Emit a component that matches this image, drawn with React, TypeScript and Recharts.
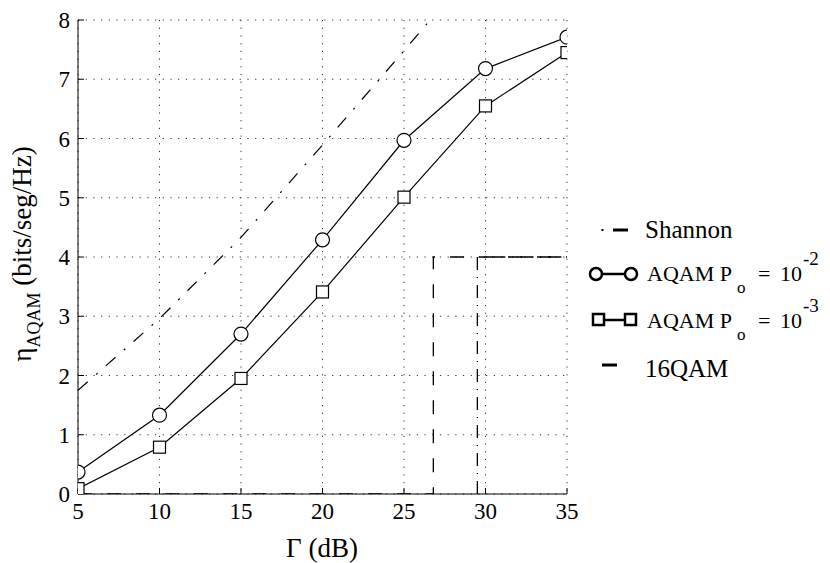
import { LineChart, Line, XAxis, YAxis, CartesianGrid } from "recharts";

const gammaDb = [5, 10, 15, 20, 25, 30, 35];
const aqamPo2 = [0.37, 1.33, 2.7, 4.29, 5.97, 7.18, 7.71];
const aqamPo3 = [0.09, 0.79, 1.95, 3.41, 5.01, 6.55, 7.45];
const shannonDb = [5, 10, 15, 20, 25, 26.6];
const shannonEta = [1.75, 2.96, 4.33, 5.89, 7.48, 8];
const qamDashDb = [5, 26.8, 26.8, 35];
const qamDashEta = [0, 0, 4, 4];
const qamDotDb = [29.5, 29.5, 35];
const qamDotEta = [0, 4, 4];
const xTicks = [5, 10, 15, 20, 25, 30, 35];
const yTicks = [0, 1, 2, 3, 4, 5, 6, 7, 8];

const FONT = "Liberation Serif";

const zip = (xs: number[], ys: number[]) => xs.map((x, i) => ({ x, y: ys[i] }));

const SquareDot = (props: any) => {
  const { cx, cy, index } = props;
  if (cx == null || cy == null) return null;
  return <rect key={`sq-${index}`} x={cx - 6} y={cy - 6} width={12} height={12} fill="#fff" stroke="#000" strokeWidth={1.2} />;
};

const XTick = (props: any) => {
  const { x, y, payload } = props;
  return (
    <text x={x} y={y} dy={17} textAnchor="middle" fontFamily={FONT} fontSize={23} fill="#000">
      {payload.value}
    </text>
  );
};

const YTick = (props: any) => {
  const { x, y, payload } = props;
  return (
    <text x={x} y={y} dy={8} textAnchor="end" fontFamily={FONT} fontSize={23} fill="#000">
      {payload.value}
    </text>
  );
};

// legend + axis titles drawn on an overlay
const Overlay = () => (
  <svg width={830} height={563} style={{ position: "absolute", left: 0, top: 0, pointerEvents: "none" }}>
    <text x={322} y={557} textAnchor="middle" fontSize={27} fontFamily={FONT} fill="#000">
      Γ (dB)
    </text>
    <text transform="rotate(-90)" x={-254} y={31} textAnchor="middle" fontSize={27} fontFamily={FONT} fill="#000">
      η<tspan dy={9} fontSize={18}>AQAM</tspan>
      <tspan dy={-9}> (bits/seg/Hz)</tspan>
    </text>

    <g transform="translate(580,205)">
      <rect x={21.5} y={24} width={2} height={2} fill="#000" />
      <line x1={33} y1={25} x2={48} y2={25} stroke="#000" strokeWidth={3} />
      <text x={65} y={33} fontSize={25} fontFamily={FONT} fill="#000">Shannon</text>

      <line x1={21} y1={69} x2={45} y2={69} stroke="#000" strokeWidth={2.5} />
      <circle cx={16} cy={69} r={6} fill="#fff" stroke="#000" strokeWidth={2.5} />
      <circle cx={51} cy={69} r={6} fill="#fff" stroke="#000" strokeWidth={2.5} />
      <text y={76} fontSize={22} fontFamily={FONT} fill="#000">
        <tspan x={67}>AQAM P</tspan>
        <tspan x={157} y={88} fontSize={17}>o</tspan>
        <tspan x={178} y={76}>=</tspan>
        <tspan x={200} y={76}>10</tspan>
        <tspan x={223} y={60} fontSize={19}>-2</tspan>
      </text>

      <line x1={24} y1={115} x2={45} y2={115} stroke="#000" strokeWidth={2.5} />
      <rect x={13} y={109} width={11} height={11} fill="#fff" stroke="#000" strokeWidth={2.5} />
      <rect x={45} y={109} width={11} height={11} fill="#fff" stroke="#000" strokeWidth={2.5} />
      <text y={123} fontSize={22} fontFamily={FONT} fill="#000">
        <tspan x={67}>AQAM P</tspan>
        <tspan x={157} y={135} fontSize={17}>o</tspan>
        <tspan x={178} y={123}>=</tspan>
        <tspan x={200} y={123}>10</tspan>
        <tspan x={223} y={107} fontSize={19}>-3</tspan>
      </text>

      <line x1={22} y1={160} x2={37} y2={160} stroke="#000" strokeWidth={3} />
      <text x={65} y={172} fontSize={25} fontFamily={FONT} fill="#000">16QAM</text>
    </g>
  </svg>
);

export default function App() {
  return (
    <div style={{ position: "absolute", left: 0, top: 0, width: 830, height: 563, background: "#fff" }}>
      <LineChart width={830} height={563} margin={{ top: 20, right: 263, bottom: 29, left: 18 }}>
        <CartesianGrid stroke="#333" strokeDasharray="1.2 6.5" />
        <XAxis
          dataKey="x" type="number" domain={[5, 35]} ticks={xTicks} allowDataOverflow
          height={40} interval={0}
          axisLine={{ stroke: "#000" }} tickLine={{ stroke: "#000" }}
          tickSize={-6} tickMargin={14}
          tick={<XTick />}
        />
        <YAxis
          type="number" domain={[0, 8]} ticks={yTicks} allowDataOverflow
          width={60} interval={0}
          axisLine={{ stroke: "#000" }} tickLine={{ stroke: "#000" }}
          tickSize={-6} tickMargin={14}
          tick={<YTick />}
        />
        <Line
          data={zip(shannonDb, shannonEta)} dataKey="y" name="Shannon" type="linear"
          stroke="#000" strokeWidth={1.2} strokeDasharray="13 11 2 11" dot={false}
          isAnimationActive={false}
        />
        <Line
          data={zip(gammaDb, aqamPo2)} dataKey="y" name="AQAM Po=1e-2" type="linear"
          stroke="#000" strokeWidth={1.2}
          dot={{ r: 7, fill: "#fff", stroke: "#000", strokeWidth: 1.2 }}
          isAnimationActive={false}
        />
        <Line
          data={zip(gammaDb, aqamPo3)} dataKey="y" name="AQAM Po=1e-3" type="linear"
          stroke="#000" strokeWidth={1.2} dot={SquareDot}
          isAnimationActive={false}
        />
        <Line
          data={zip(qamDashDb, qamDashEta)} dataKey="y" name="16QAM" type="linear"
          stroke="#000" strokeWidth={1.3} strokeDasharray="14 15" dot={false}
          isAnimationActive={false}
        />
        <Line
          data={zip(qamDotDb, qamDotEta)} dataKey="y" name="16QAM b" type="linear"
          stroke="#000" strokeWidth={1.3} strokeDasharray="13 7 1 7" dot={false}
          isAnimationActive={false}
        />
      </LineChart>
      <Overlay />
    </div>
  );
}
